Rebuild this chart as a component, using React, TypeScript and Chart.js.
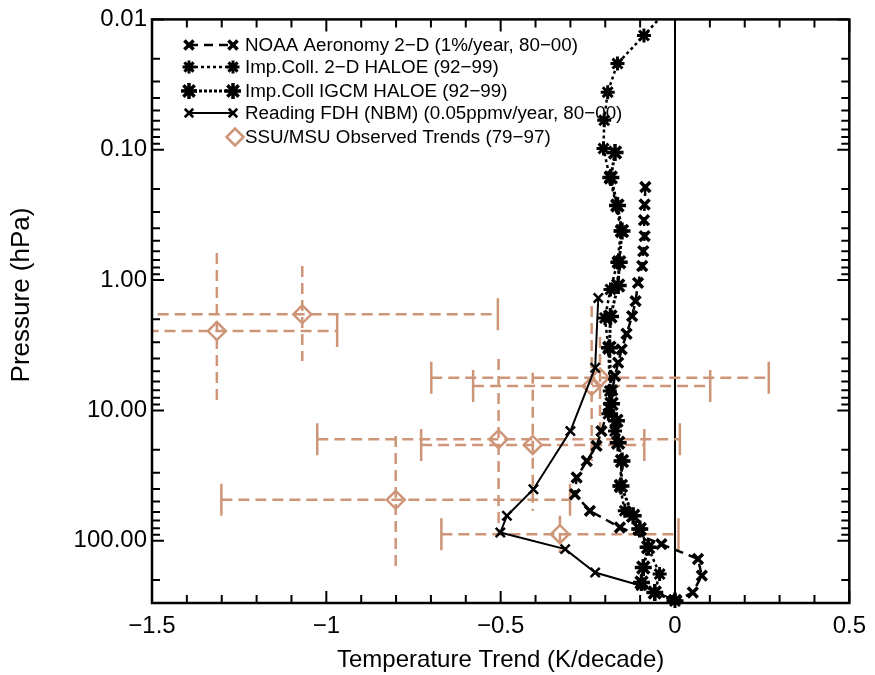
import React, { useEffect, useRef } from 'react';
import { Chart, registerables } from 'chart.js';
import { drawPoint } from 'chart.js/helpers';

Chart.register(...registerables);

const FONT = '"Liberation Sans", Arial, Helvetica, sans-serif';
const TAN = 'rgb(206,150,120)';

// NOAA Aeronomy 2-D (1%/year, 80-00)
const noaaP = [0.193, 0.263, 0.347, 0.46, 0.6, 0.78, 1.05, 1.45, 1.89, 2.58, 3.4, 4.3, 5.44, 7.0, 9.5, 14.4, 18.7, 24.4, 32.7, 43.9, 58.9, 79.0, 106, 138, 185, 249, 288];
const noaaT = [-0.085, -0.087, -0.089, -0.087, -0.091, -0.094, -0.106, -0.113, -0.123, -0.139, -0.153, -0.163, -0.172, -0.18, -0.19, -0.211, -0.225, -0.253, -0.282, -0.287, -0.244, -0.158, -0.039, 0.066, 0.077, 0.051, 0.004];

// Imp.Coll. 2-D HALOE (92-99)
const icP = [0.0075, 0.0133, 0.0218, 0.0362, 0.0594, 0.098, 0.163, 0.268, 0.42, 0.73, 1.18, 1.95, 3.3, 7.1, 10.6, 14.4, 24.4, 37.9, 58.9, 81.3, 112, 180, 249, 290];
const icT = [-0.005, -0.089, -0.165, -0.193, -0.203, -0.205, -0.187, -0.168, -0.155, -0.165, -0.185, -0.201, -0.191, -0.187, -0.191, -0.172, -0.153, -0.158, -0.144, -0.101, -0.077, -0.044, -0.058, 0.0];

// Imp.Coll IGCM HALOE (92-99)
const igP = [0.105, 0.163, 0.268, 0.42, 0.73, 1.1, 1.9, 3.3, 8.9, 12.0, 17.7, 24.4, 37.9, 64.3, 81.3, 112, 160, 209, 249, 290];
const igT = [-0.172, -0.184, -0.165, -0.152, -0.16, -0.163, -0.185, -0.188, -0.182, -0.168, -0.163, -0.152, -0.155, -0.12, -0.101, -0.077, -0.091, -0.096, -0.058, 0.0];

// Reading FDH (NBM) (0.05ppmv/year, 80-00)
const rdP = [1.37, 4.7, 14.4, 40.2, 64.3, 86.3, 115.8, 175, 221, 288];
const rdT = [-0.22, -0.229, -0.3, -0.406, -0.482, -0.501, -0.315, -0.229, -0.097, 0.003];

// SSU/MSU Observed Trends (79-97)
const obsT = [-1.314, -1.069, -0.215, -0.239, -0.506, -0.408, -0.801, -0.33];
const obsP = [2.46, 1.83, 5.6, 6.5, 16.6, 18.4, 48.5, 88.9];
const obsTErr = [0.345, 0.561, 0.484, 0.34, 0.52, 0.32, 0.5, 0.34];
const obsPTop = [0.62, 0.78, 2.73, 1.58, 4.03, 5.13, 15.7, 64.3];
const obsPBottom = [9.24, 4.18, 15.1, 24.4, 88.4, 58.9, 164, 124];

const xTickVals = [-1.5, -1, -0.5, 0, 0.5];
const yTickVals = [0.01, 0.1, 1, 10, 100];

const legendLabels = [
  'NOAA Aeronomy 2\u2212D (1%/year, 80\u221200)',
  'Imp.Coll. 2\u2212D HALOE (92\u221299)',
  'Imp.Coll IGCM HALOE (92\u221299)',
  'Reading FDH (NBM) (0.05ppmv/year, 80\u221200)',
  'SSU/MSU Observed Trends (79\u221297)',
];

const pts = (t: number[], p: number[]) => t.map((v, i) => ({ x: v, y: p[i] }));

const overlayPlugin = {
  id: 'overlay',
  beforeDatasetsDraw(chart: any) {
    const { ctx, chartArea: a, scales } = chart;
    const xs = scales.x, ys = scales.y;
    ctx.save();
    ctx.beginPath();
    ctx.rect(a.left, a.top, a.right - a.left, a.bottom - a.top);
    ctx.clip();
    // zero line
    ctx.strokeStyle = '#000';
    ctx.lineWidth = 2;
    const x0 = xs.getPixelForValue(0);
    ctx.beginPath();
    ctx.moveTo(x0, a.top);
    ctx.lineTo(x0, a.bottom);
    ctx.stroke();
    // error bars
    ctx.strokeStyle = TAN;
    ctx.lineWidth = 2.5;
    for (let i = 0; i < obsT.length; i++) {
      const px = xs.getPixelForValue(obsT[i]);
      const py = ys.getPixelForValue(obsP[i]);
      const xl = xs.getPixelForValue(obsT[i] - obsTErr[i]);
      const xr = xs.getPixelForValue(obsT[i] + obsTErr[i]);
      ctx.setLineDash([11, 6]);
      ctx.beginPath();
      ctx.moveTo(xl, py);
      ctx.lineTo(xr, py);
      ctx.stroke();
      ctx.beginPath();
      ctx.moveTo(px, ys.getPixelForValue(obsPTop[i]));
      ctx.lineTo(px, ys.getPixelForValue(obsPBottom[i]));
      ctx.stroke();
      ctx.setLineDash([]);
      for (const cx of [xl, xr]) {
        ctx.beginPath();
        ctx.moveTo(cx, py - 16);
        ctx.lineTo(cx, py + 16);
        ctx.stroke();
      }
    }
    ctx.restore();

    // legend
    ctx.save();
    const rows = [45, 67, 91, 113, 137];
    const styles: any[] = [
      { dash: [9, 6], lw: 2.5, ps: 'crossRot', r: 6.5, bw: 3.5 },
      { dash: [3, 3], lw: 2.5, ps: 'star', r: 6.5, bw: 3 },
      { dash: [3, 2], lw: 3, ps: 'star', r: 8, bw: 3.5 },
      { dash: [], lw: 2, ps: 'crossRot', r: 6, bw: 2.5 },
    ];
    styles.forEach((s, i) => {
      const y = rows[i];
      ctx.strokeStyle = '#000';
      ctx.fillStyle = '#000';
      ctx.lineWidth = s.lw;
      ctx.setLineDash(s.dash);
      ctx.beginPath();
      ctx.moveTo(189, y);
      ctx.lineTo(233, y);
      ctx.stroke();
      ctx.setLineDash([]);
      ctx.lineWidth = s.bw;
      drawPoint(ctx, { pointStyle: s.ps, radius: s.r, borderWidth: s.bw, rotation: 0 } as any, 189, y);
      drawPoint(ctx, { pointStyle: s.ps, radius: s.r, borderWidth: s.bw, rotation: 0 } as any, 233, y);
    });
    ctx.strokeStyle = TAN;
    ctx.lineWidth = 2.5;
    ctx.beginPath();
    ctx.moveTo(235, rows[4] - 8.5);
    ctx.lineTo(243.5, rows[4]);
    ctx.lineTo(235, rows[4] + 8.5);
    ctx.lineTo(226.5, rows[4]);
    ctx.closePath();
    ctx.stroke();
    ctx.fillStyle = '#000';
    ctx.font = `18.8px ${FONT}`;
    ctx.textAlign = 'left';
    ctx.textBaseline = 'middle';
    legendLabels.forEach((t, i) => ctx.fillText(t, 245, rows[i] + 1));
    ctx.restore();
  },
  afterDatasetsDraw(chart: any) {
    const { ctx, chartArea: a, scales } = chart;
    const xs = scales.x, ys = scales.y;
    ctx.save();
    ctx.strokeStyle = '#000';
    ctx.lineWidth = 2;
    // x ticks
    for (let i = -15; i <= 5; i++) {
      const v = i / 10;
      const px = xs.getPixelForValue(v);
      const len = i % 5 === 0 ? 12 : 8;
      ctx.beginPath();
      ctx.moveTo(px, a.bottom);
      ctx.lineTo(px, a.bottom - len);
      ctx.moveTo(px, a.top);
      ctx.lineTo(px, a.top + len);
      ctx.stroke();
    }
    // y ticks
    for (let d = -2; d <= 2; d++) {
      for (let m = 1; m <= 9; m++) {
        const v = m * Math.pow(10, d);
        if (v > 300) continue;
        const py = ys.getPixelForValue(v);
        const len = m === 1 ? 12 : 8;
        ctx.beginPath();
        ctx.moveTo(a.left, py);
        ctx.lineTo(a.left + len, py);
        ctx.moveTo(a.right, py);
        ctx.lineTo(a.right - len, py);
        ctx.stroke();
      }
    }
    // frame
    ctx.lineWidth = 2.5;
    ctx.strokeRect(a.left, a.top, a.right - a.left, a.bottom - a.top);
    // titles
    ctx.fillStyle = '#000';
    ctx.textAlign = 'center';
    ctx.textBaseline = 'middle';
    ctx.font = `24px ${FONT}`;
    ctx.fillText('Temperature Trend (K/decade)', (a.left + a.right) / 2, 660);
    ctx.translate(22, 295);
    ctx.rotate(-Math.PI / 2);
    ctx.font = `26px ${FONT}`;
    ctx.fillText('Pressure (hPa)', 0, 0);
    ctx.restore();
  },
};

export default function App() {
  const ref = useRef<HTMLCanvasElement>(null);
  useEffect(() => {
    const base = {
      showLine: true,
      borderColor: '#000',
      backgroundColor: '#000',
      pointBackgroundColor: '#000',
      pointBorderColor: '#000',
      tension: 0,
    };
    const chart = new Chart(ref.current as HTMLCanvasElement, {
      type: 'scatter',
      data: {
        datasets: [
          { ...base, label: 'NOAA', data: pts(noaaT, noaaP), borderWidth: 2.5, borderDash: [9, 6], pointStyle: 'crossRot', pointRadius: 7, pointBorderWidth: 3.5 },
          { ...base, label: 'IC2D', data: pts(icT, icP), borderWidth: 2.5, borderDash: [3, 3], pointStyle: 'star', pointRadius: 7, pointBorderWidth: 3, clip: { left: 8, right: 8, top: 0, bottom: 8 } },
          { ...base, label: 'IGCM', data: pts(igT, igP), borderWidth: 3, borderDash: [3, 2], pointStyle: 'star', pointRadius: 8.5, pointBorderWidth: 3.5 },
          { ...base, label: 'Reading', data: pts(rdT, rdP), borderWidth: 2, pointStyle: 'crossRot', pointRadius: 6.5, pointBorderWidth: 2.5 },
          { label: 'SSU', data: pts(obsT, obsP), showLine: false, pointStyle: 'rectRot', pointRadius: 9, pointBorderWidth: 2.5, pointBorderColor: TAN, pointBackgroundColor: 'rgba(0,0,0,0)', borderColor: TAN },
        ] as any,
      },
      options: {
        animation: false,
        responsive: false,
        events: [],
        layout: { padding: { left: 0, right: 23, top: 18, bottom: 0 } },
        plugins: { legend: { display: false }, tooltip: { enabled: false } },
        scales: {
          x: {
            type: 'linear',
            min: -1.5,
            max: 0.5,
            afterBuildTicks: (s: any) => { s.ticks = xTickVals.map((v) => ({ value: v })); },
            afterFit: (s: any) => { s.height = 72; },
            grid: { display: false, drawTicks: false },
            border: { display: false },
            ticks: {
              autoSkip: false,
              maxRotation: 0,
              padding: 9,
              color: '#000',
              font: { family: FONT, size: 24 },
              callback: (v: any) => String(Number(v)).replace('-', '\u2212'),
            },
          },
          y: {
            type: 'logarithmic',
            reverse: true,
            min: 0.01,
            max: 300,
            afterBuildTicks: (s: any) => { s.ticks = yTickVals.map((v) => ({ value: v })); },
            afterFit: (s: any) => { s.width = 152; },
            grid: { display: false, drawTicks: false },
            border: { display: false },
            ticks: {
              autoSkip: false,
              padding: 5,
              color: '#000',
              font: { family: FONT, size: 24 },
              callback: (v: any) => Number(v).toFixed(2),
            },
          },
        },
      } as any,
      plugins: [overlayPlugin],
    });
    return () => chart.destroy();
  }, []);
  return (
    <div style={{ position: 'absolute', left: 0, top: 0, width: 875, height: 675, background: '#fff' }}>
      <canvas ref={ref} width={875} height={675} />
    </div>
  );
}
